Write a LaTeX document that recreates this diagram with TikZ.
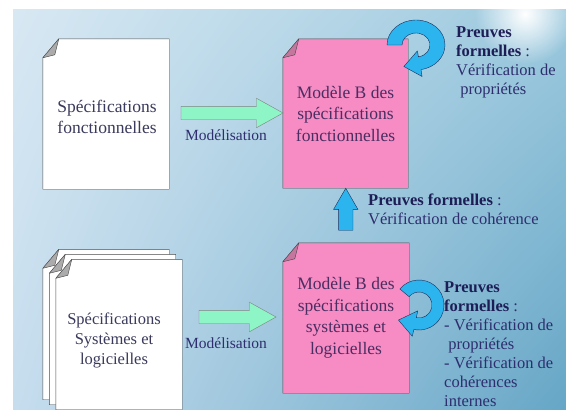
\documentclass[tikz,border=0pt]{standalone}
\usepackage{fontspec}
\setmainfont{Liberation Serif}
\usetikzlibrary{shapes.arrows,calc,positioning,fadings,shadings}

\definecolor{bgtl}{HTML}{D8E8F3}
\definecolor{bgbl}{HTML}{C6DDEE}
\definecolor{bgtr}{HTML}{9CC9DE}
\definecolor{bgbr}{HTML}{66A6C6}
\definecolor{pagepink}{HTML}{F78CC4}
\definecolor{pinkfold}{HTML}{C4769E}
\definecolor{greyfold}{HTML}{ABABAB}
\definecolor{pageline}{HTML}{4A4A4A}
\definecolor{mint}{HTML}{8EF5C6}
\definecolor{loopblue}{HTML}{2BB4EE}
\definecolor{loopline}{HTML}{1E2E5A}
\definecolor{doctext}{HTML}{3A3A5C}
\definecolor{pinktext}{HTML}{4A2E62}
\definecolor{bluetext}{HTML}{2E2E6E}
\definecolor{boldtext}{HTML}{1E1E56}

\tikzfading[name=glow,inner color=transparent!0,outer color=transparent!100]
\pgfdeclarelayer{backdrop}
\pgfdeclarelayer{sheets}
\pgfsetlayers{backdrop,sheets,main}

% sheet of paper behind a node, with its dog-ear
\newcommand\papersheet[3]{
	\begin{pgfonlayer}{sheets}
	\filldraw[fill=#2,draw=pageline,line join=round]
		($(#1.north west)+(16,0)$) -- (#1.north east) -- (#1.south east)
		-- (#1.south west) -- ($(#1.north west)+(0,19)$) -- cycle;
	\filldraw[fill=#3,draw=pageline,line join=round]
		($(#1.north west)+(16,0)$) -- ($(#1.north west)+(0,19)$)
		-- ($(#1.north west)+(12,16)$) -- cycle;
	\end{pgfonlayer}
}
\newcommand\proofbf[1]{\textcolor{boldtext}{\bfseries #1}}

\begin{document}
\begin{tikzpicture}
	[x=1pt,y=-1pt,every node/.style={inner sep=0pt},
	page/.style={rectangle,minimum width=126pt,minimum height=150pt,align=center},
	whitepage/.style={page,text=doctext,font=\fontsize{17.5}{21}\selectfont},
	pinkpage/.style={page,text=pinktext,font=\fontsize{17.5}{21.5}\selectfont},
	greenarrow/.style={single arrow,draw=pageline!70,fill=mint,inner sep=6.5pt,
		single arrow head extend=8pt,single arrow tip angle=58},
	modlabel/.style={text=bluetext,font=\fontsize{15.5}{18}\selectfont},
	prooftext/.style={text=bluetext,align=left,anchor=north west,
		font=\fontsize{16.5}{19.3}\selectfont},
	loop/.style={fill=loopblue,draw=loopline,line join=round}]

	\useasboundingbox (0,0) rectangle (566,410);
	\begin{pgfonlayer}{backdrop}
		\shade[upper left=bgtl,lower left=bgbl,upper right=bgtr,lower right=bgbr]
			(13,9) rectangle (566,410);
		\clip (13,9) rectangle (566,410);
		\fill[white,path fading=glow] (525,14) circle (50);
	\end{pgfonlayer}

	% documents
	\node[whitepage] (sf) at (106,114) {};
	\node[text=doctext,align=center,font=\fontsize{17.5}{21}\selectfont] (sftxt)
		at ($(sf.center)+(1,3)$) {Spécifications\\fonctionnelles};
	\papersheet{sf}{white}{greyfold}
	\foreach \i/\px/\py in {1/106/324.5,2/112.5/329.5}{
		\node[page] (st\i) at (\px,\py) {};
		\papersheet{st\i}{white}{greyfold}
	}
	\node[page] (ss) at (119,334.5) {};
	\node[text=doctext,align=center,font=\fontsize{16.5}{20}\selectfont] (sstxt)
		at ($(ss.center)+(-5,6)$) {Spécifications\\Systèmes et\\logicielles};
	\papersheet{ss}{white}{greyfold}

	\node[pinkpage,minimum width=125pt,minimum height=149pt] (mf) at (345.5,113.5)
		{Modèle B des\\spécifications\\fonctionnelles};
	\papersheet{mf}{pagepink}{pinkfold}
	\node[pinkpage] (ms) at (346,318)
		{Modèle B des\\spécifications\\systèmes et\\logicielles};
	\papersheet{ms}{pagepink}{pinkfold}

	% modelling arrows
	\node[greenarrow,minimum height=102pt] (a1) at (226,113) {};
	\node[modlabel,below=10pt of a1] (l1) {Modélisation};
	\node[greenarrow,minimum height=77pt] (a2) at (231.5,317) {};
	\node[modlabel,below=14pt of a2,xshift=-5.5pt] (l2) {Modélisation};

	% coherence arrow
	\node[single arrow,shape border rotate=90,fill=loopblue,draw=loopline,
		inner sep=7pt,single arrow head extend=5pt,single arrow tip angle=60,
		minimum height=42pt] (up) at ($(mf.south)!0.5!(ms.north)$) {};

	% proof loops
	\begin{scope}[shift={(416,45)}]
		\filldraw[loop] (-180:29 and 25) arc[start angle=-180,end angle=80,
			x radius=29,y radius=25] -- (80:35 and 32) -- ($(80:21 and 19)+(170:16)$)
			-- (80:8 and 6) -- (80:14 and 12) arc[start angle=80,end angle=-180,
			x radius=14,y radius=12] -- cycle;
	\end{scope}
	\begin{scope}[shift={(419,305)}]
		\filldraw[loop] (-140:25) arc[start angle=-140,end angle=102,radius=25]
			-- (102:32) -- ($(102:19)+(192:17)$) -- (102:6) -- (102:13)
			arc[start angle=102,end angle=-140,radius=13] -- cycle;
	\end{scope}

	% proof texts
	\node[prooftext] (p1) at (456,26)
		{\proofbf{Preuves}\\
		\proofbf{formelles} :\\
		Vérification de\\
		\ propriétés};
	\node[prooftext,font=\fontsize{16.5}{19}\selectfont] (p2) at (368,194)
		{\proofbf{Preuves formelles} :\\
		Vérification de cohérence};
	\node[prooftext,font=\fontsize{16.5}{19}\selectfont] (p3) at (444,281)
		{\proofbf{Preuves}\\
		\proofbf{formelles} :\\
		- Vérification de\\
		\ propriétés\\
		- Vérification de\\
		cohérences\\
		internes};
\end{tikzpicture}
\end{document}
